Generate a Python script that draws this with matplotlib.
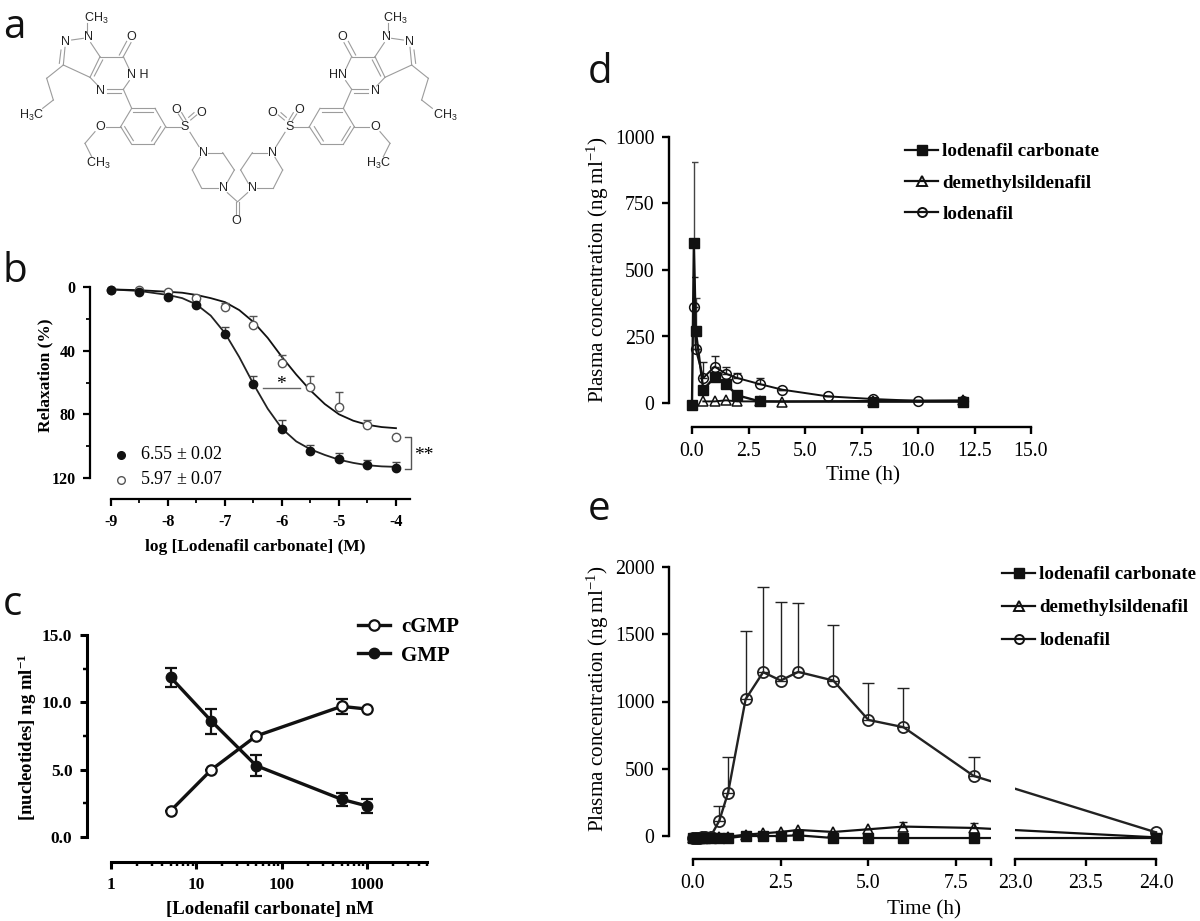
import numpy as np
import matplotlib
matplotlib.use("Agg")
import matplotlib.pyplot as plt
from matplotlib.lines import Line2D
from matplotlib.ticker import FixedLocator, NullFormatter

plt.rcParams['font.family'] = ['Liberation Serif', 'DejaVu Sans']
plt.rcParams['mathtext.default'] = 'regular'
plt.rcParams['axes.unicode_minus'] = False

W, H = 1200, 921

# panel b
b_logc = [-9, -8.5, -8, -7.5, -7, -6.5, -6, -5.5, -5, -4.5, -4]
b_filled = [1.7, 3, 6.5, 11, 29.6, 61, 89, 103, 108, 112, 113.5]
b_filled_top = [1.7, 3, 6.5, 9, 25, 56, 83.5, 99, 104, 108.5, 110]
b_open = [1.7, 2, 3, 6.7, 12.5, 24, 47.6, 63, 75.6, 87, 94]
b_open_top = [1.7, 2, 3, 5, 10, 18, 43, 56, 66, 83.5, 94]
b_curve_x = [-9, -8.5, -8, -7.75, -7.5, -7.25, -7, -6.75, -6.5, -6.25, -6, -5.75, -5.5, -5.25, -5, -4.75, -4.5, -4.25, -4]
b_curve_filled = [1.5, 2.5, 5, 7, 11, 18, 29, 44, 61, 76.5, 89, 97, 102, 105.5, 108.5, 110.5, 112, 112.7, 113]
b_curve_open = [1.5, 2, 3, 3.6, 5, 7, 9.5, 14.5, 22, 32, 44, 55, 65, 73.5, 80, 84, 86.6, 88, 88.7]

# panel c
c_conc = [5, 15, 50, 500, 1000]
c_cgmp = [1.95, 5.0, 7.5, 9.7, 9.5]
c_cgmp_err = [0, 0, 0, 0.55, 0]
c_gmp = [11.85, 8.6, 5.3, 2.8, 2.3]
c_gmp_err = [0.68, 0.93, 0.8, 0.47, 0.5]

# panel d
d_time_carb = [0, 0.083, 0.167, 0.5, 1, 1.5, 2, 3, 8, 12]
d_carb = [-7, 600, 272, 50, 97, 71, 29, 6, 5, 5]
d_carb_top = [-7, 905, 394, 50, 97, 71, 29, 6, 5, 5]
d_time_dem = [0.5, 1, 1.5, 2, 3, 4, 8, 12]
d_dem = [6, 6, 10, 6, 6, 5, 8, 10]
d_time_lod = [0.083, 0.167, 0.5, 1, 1.5, 2, 3, 4, 6, 8, 10, 12]
d_lod = [362, 202, 94, 137, 110, 94, 71, 50, 25, 15, 8, 8]
d_lod_top = [472, 202, 156, 177, 137, 112, 94, 50, 25, 15, 8, 8]

# panel e
e_time = [0, 0.083, 0.167, 0.25, 0.33, 0.5, 0.75, 1, 1.5, 2, 2.5, 3, 4, 5, 6, 8, 24]
e_carb = [-15, -15, -15, -15, -15, -15, -15, -15, 0, 0, 0, 5, -15, -15, -15, -15, -15]
e_dem = [-15, -15, -15, -10, -10, -10, -5, -5, 10, 20, 30, 45, 30, 50, 70, 60, -10]
e_dem_top = [-15, -15, -15, -10, -10, -10, -5, -5, 10, 20, 30, 45, 30, 50, 107, 94, -10]
e_lod = [-15, -15, -15, -10, -10, -5, 114, 322, 1017, 1218, 1156, 1220, 1156, 863, 809, 447, 27]
e_lod_top = [-15, -15, -15, -10, -10, -5, 223, 590, 1526, 1851, 1739, 1732, 1566, 1141, 1099, 590, 27]

legend_names = ['lodenafil carbonate', 'demethylsildenafil', 'lodenafil']
plasma_label = 'Plasma concentration (ng ml$^{-1}$)'


def panel_axes(left, right, top, bottom, off_left, off_bottom, lw):
    ax = fig.add_axes([left/W, 1-bottom/H, (right-left)/W, (bottom-top)/H])
    ax.patch.set_alpha(0)
    ax.spines['top'].set_visible(False)
    ax.spines['right'].set_visible(False)
    ax.spines['left'].set_position(('outward', off_left*0.72))
    ax.spines['bottom'].set_position(('outward', off_bottom*0.72))
    ax.spines['left'].set_linewidth(lw)
    ax.spines['bottom'].set_linewidth(lw)
    ax.tick_params(which='major', length=5, width=lw, pad=5.5)
    ax.tick_params(which='minor', length=3, width=lw*0.8)
    return ax


def place_labels(ax, xlabel, xpos, ylabel, ypos, size, weight):
    ax.set_xlabel(xlabel, fontsize=size, fontweight=weight, va='center', ha='center')
    ax.set_ylabel(ylabel, fontsize=size, fontweight=weight, va='center', ha='center')
    ax.xaxis.set_label_coords(xpos[0]/W, 1-xpos[1]/H, transform=fig.transFigure)
    ax.yaxis.set_label_coords(ypos[0]/W, 1-ypos[1]/H, transform=fig.transFigure)


def up_err(vals, tops):
    up = np.abs(np.array(tops, dtype=float)-np.array(vals, dtype=float))
    return [np.zeros(len(up)), up]


def pk_legend(ax, x, y, spacing):
    handles = [Line2D([], [], color='#111111', lw=1.6, marker='s', ms=6.5, mfc='#111111', mec='#111111'),
               Line2D([], [], color='#111111', lw=1.6, marker='^', ms=6.5, mfc='none', mec='#111111', mew=1.4),
               Line2D([], [], color='#111111', lw=1.6, marker='o', ms=6.5, mfc='none', mec='#111111', mew=1.4)]
    ax.legend(handles, legend_names, loc='upper left', bbox_to_anchor=(x/W, 1-y/H),
              bbox_transform=fig.transFigure, frameon=False, borderpad=0, borderaxespad=0,
              handlelength=1.75, handletextpad=0.2, labelspacing=spacing,
              prop={'size': 13.7, 'weight': 'bold'})


fig = plt.figure(figsize=(W/100, H/100), dpi=100, facecolor='white')

# panel a, drawn in zoomed pixel units (3 per pixel)
mol = fig.add_axes([0, 0, 1, 1])
mol.set_xlim(0, W*3)
mol.set_ylim(H*3, 0)
mol.axis('off')

half_bonds = [
    (262, 70, 262, 95), (215, 120, 250, 115), (195, 142, 190, 195), (183, 150, 178, 190),
    (190, 195, 270, 232), (270, 232, 300, 170), (283, 228, 308, 180), (300, 170, 272, 128),
    (300, 170, 370, 170), (370, 170, 393, 128), (358, 165, 380, 124), (370, 170, 388, 208),
    (388, 242, 370, 268), (370, 268, 320, 268), (362, 278, 322, 278), (295, 258, 270, 232),
    (370, 268, 395, 325), (395, 325, 465, 325), (465, 325, 497, 380), (497, 380, 462, 433),
    (462, 433, 395, 433), (395, 433, 362, 380), (362, 380, 395, 325), (400, 337, 460, 337),
    (482, 380, 455, 423), (400, 422, 374, 380), (497, 380, 543, 380), (548, 362, 535, 342),
    (558, 360, 545, 338), (572, 360, 590, 345), (566, 352, 582, 338), (570, 397, 597, 440),
    (625, 458, 668, 458), (668, 458, 703, 510), (703, 510, 680, 550), (655, 565, 605, 565),
    (605, 565, 577, 510), (577, 510, 600, 472), (682, 578, 712, 605), (362, 380, 318, 380),
    (285, 395, 255, 430), (255, 430, 275, 470), (190, 195, 140, 235), (140, 235, 160, 300),
    (160, 300, 128, 325),
]
for x1, y1, x2, y2 in half_bonds:
    mol.plot([x1, x2], [y1, y2], color='#9c9c9c', lw=0.8)
    mol.plot([1425-x1, 1425-x2], [y1, y2], color='#9c9c9c', lw=0.8)
mol.plot([708, 708], [605, 645], color='#9c9c9c', lw=0.8)
mol.plot([717, 717], [605, 645], color='#9c9c9c', lw=0.8)

atom_labels = [
    (290, 55, 'CH$_3$'), (265, 112, 'N'), (195, 125, 'N'), (395, 110, 'O'), (413, 226, 'N H'),
    (302, 273, 'N'), (93, 347, 'H$_3$C'), (300, 380, 'O'), (295, 490, 'CH$_3$'), (528, 330, 'O'),
    (603, 338, 'O'), (555, 380, 'S'), (610, 458, 'N'), (670, 565, 'N'), (710, 662, 'O'),
    (1185, 55, 'CH$_3$'), (1160, 112, 'N'), (1230, 125, 'N'), (1027, 110, 'O'), (1013, 226, 'HN'),
    (1127, 273, 'N'), (1337, 347, 'CH$_3$'), (1127, 380, 'O'), (1135, 490, 'H$_3$C'), (818, 338, 'O'),
    (898, 330, 'O'), (868, 380, 'S'), (818, 458, 'N'), (757, 565, 'N'),
]
for x, y, s in atom_labels:
    mol.text(x, y, s, fontsize=9, family='Liberation Sans', color='#222222', ha='center', va='center')

for x, y, s in [(3, 38, 'a'), (3, 282, 'b'), (3, 615, 'c'), (588, 83, 'd'), (588, 520, 'e')]:
    fig.text(x/W, 1-y/H, s, fontsize=29, family='Open Sans', color='#111111', ha='left', va='baseline')

# panel b
ax = panel_axes(111, 410, 287, 478, 21, 21, 1.6)
ax.set_xlim(-9, -3.754)
ax.set_ylim(120, 0)
ax.plot(b_curve_x, b_curve_filled, color='#222222', lw=1.3, clip_on=False)
ax.plot(b_curve_x, b_curve_open, color='#111111', lw=1.3, clip_on=False)
lo = np.array(b_filled)-np.array(b_filled_top)
ax.errorbar(b_logc, b_filled, yerr=[lo, np.zeros(len(lo))], fmt='none', ecolor='#444444', elinewidth=1, capsize=3, clip_on=False)
lo = np.array(b_open)-np.array(b_open_top)
ax.errorbar(b_logc, b_open, yerr=[lo, np.zeros(len(lo))], fmt='none', ecolor='#555555', elinewidth=1, capsize=3, clip_on=False)
ax.plot(b_logc, b_open, ls='none', marker='o', ms=6, mfc='white', mec='#555555', mew=1, clip_on=False)
ax.plot(b_logc, b_filled, ls='none', marker='o', ms=6, color='#111111', clip_on=False)
ax.set_xticks([-9, -8, -7, -6, -5, -4])
ax.xaxis.set_minor_locator(FixedLocator([-8.5, -7.5, -6.5, -5.5, -4.5]))
ax.set_yticks([0, 40, 80, 120])
ax.yaxis.set_minor_locator(FixedLocator([20, 60, 100]))
ax.tick_params(labelsize=11.5)
for t in ax.get_xticklabels()+ax.get_yticklabels():
    t.set_fontweight('bold')
place_labels(ax, 'log [Lodenafil carbonate] (M)', (255, 547), 'Relaxation (%)', (45, 375), 12.5, 'bold')
ax.plot([-8.82], [105.5], marker='o', ms=5.5, color='#111111', clip_on=False)
ax.plot([-8.82], [121], marker='o', ms=5.5, mfc='white', mec='#555555', clip_on=False)
ax.text(-8.49, 105.5, '6.55 $\\pm$ 0.02', fontsize=13, va='center')
ax.text(-8.49, 121, '5.97 $\\pm$ 0.07', fontsize=13, va='center')
ax.plot([-6.33, -5.68], [63.4, 63.4], color='#666666', lw=1)
ax.text(-6.01, 61, '*', fontsize=14, ha='center', va='center')
ax.plot([-3.84, -3.74, -3.74, -3.84], [94.2, 94.2, 114.3, 114.3], color='#555555', lw=1, clip_on=False)
ax.text(-3.52, 106, '**', fontsize=14, ha='center', va='center')

# panel c
ax = panel_axes(111, 427, 635, 837, 24, 25, 2.2)
ax.set_xscale('log')
ax.set_xlim(1, 5000)
ax.set_ylim(0, 15)
ax.plot(c_conc, c_cgmp, color='#111111', lw=2.4, label='cGMP', marker='o', ms=7.5, mfc='white', mec='#111111', mew=1.6, zorder=3, clip_on=False)
ax.plot(c_conc, c_gmp, color='#111111', lw=2.4, label='GMP', marker='o', ms=7.5, mfc='#111111', mec='#111111', zorder=4, clip_on=False)
ax.errorbar(c_conc, c_cgmp, yerr=c_cgmp_err, fmt='none', ecolor='#111111', elinewidth=1.6, capsize=4, capthick=1.6, zorder=2)
ax.errorbar(c_conc, c_gmp, yerr=c_gmp_err, fmt='none', ecolor='#111111', elinewidth=1.6, capsize=4, capthick=1.6, zorder=2)
ax.set_xticks([1, 10, 100, 1000])
ax.set_xticklabels(['1', '10', '100', '1000'])
ax.xaxis.set_minor_formatter(NullFormatter())
ax.set_yticks([0, 5, 10, 15])
ax.set_yticklabels(['0.0', '5.0', '10.0', '15.0'])
ax.yaxis.set_minor_locator(FixedLocator([2.5, 7.5, 12.5]))
ax.tick_params(labelsize=12.5)
for t in ax.get_xticklabels()+ax.get_yticklabels():
    t.set_fontweight('bold')
place_labels(ax, '[Lodenafil carbonate] nM', (270, 909), '[nucleotides] ng ml$^{-1}$', (27, 737), 13.5, 'bold')
ax.legend(loc='upper left', bbox_to_anchor=(358/W, 1-617/H), bbox_transform=fig.transFigure,
          frameon=False, borderpad=0, borderaxespad=0, handlelength=1.54, handletextpad=0.53,
          labelspacing=0.42, prop={'size': 15, 'weight': 'bold'})

# panel d
ax = panel_axes(692, 1031, 137, 403, 23, 24, 1.7)
ax.set_xlim(0, 15)
ax.set_ylim(0, 1000)
ax.errorbar(d_time_carb, d_carb, yerr=up_err(d_carb, d_carb_top), fmt='none', ecolor='#444444', elinewidth=1, capsize=3)
ax.errorbar(d_time_lod, d_lod, yerr=up_err(d_lod, d_lod_top), fmt='none', ecolor='#222222', elinewidth=1, capsize=3)
ax.plot(d_time_carb, d_carb, color='#111111', lw=1.7, marker='s', ms=7, clip_on=False)
ax.plot(d_time_dem, d_dem, color='#111111', lw=1.4, marker='^', ms=6.5, mfc='none', mew=1.1, clip_on=False)
ax.plot(d_time_lod, d_lod, color='#111111', lw=1.4, marker='o', ms=7, mfc='none', mew=1.1, clip_on=False)
ax.set_xticks([0, 2.5, 5, 7.5, 10, 12.5, 15])
ax.set_xticklabels(['0.0', '2.5', '5.0', '7.5', '10.0', '12.5', '15.0'])
ax.set_yticks([0, 250, 500, 750, 1000])
ax.tick_params(labelsize=14.3)
place_labels(ax, 'Time (h)', (863, 476), plasma_label, (598, 270), 15.2, 'normal')
pk_legend(ax, 905, 143, 0.74)

# panel e, broken time axis through a piecewise scale
ax = panel_axes(693, 1156, 567, 836, 24, 23, 1.7)
hours = [0, 8.5, 23, 24]
drawn = [0, 8.5, 9.19, 13.2]
ax.set_xscale('function', functions=(lambda v: np.interp(v, hours, drawn), lambda v: np.interp(v, drawn, hours)))
ax.set_xlim(0, 24)
ax.set_ylim(0, 2000)
ax.errorbar(e_time, e_dem, yerr=up_err(e_dem, e_dem_top), fmt='none', ecolor='#222222', elinewidth=1, capsize=3)
ax.errorbar(e_time, e_lod, yerr=up_err(e_lod, e_lod_top), fmt='none', ecolor='#222222', elinewidth=1, capsize=4)
ax.plot(e_time, e_dem, color='#111111', lw=1.6, marker='^', ms=6.5, mfc='none', mew=1.2, clip_on=False)
ax.plot(e_time, e_lod, color='#222222', lw=1.7, marker='o', ms=8, mfc='none', mew=1.3, clip_on=False)
ax.plot(e_time, e_carb, color='#111111', lw=1.6, marker='s', ms=7, clip_on=False, zorder=4)
ax.add_patch(plt.Rectangle((8.5, -0.06), 14.5, 0.36, transform=ax.get_xaxis_transform(), fc='white', ec='none', zorder=4.5, clip_on=False))
ax.set_xticks([0, 2.5, 5, 7.5, 8.5, 23, 23.5, 24])
ax.set_xticklabels(['0.0', '2.5', '5.0', '7.5', '', '23.0', '23.5', '24.0'])
ax.spines['bottom'].set_bounds(0, 8.5)
ax.plot([23, 24], [-23/269, -23/269], transform=ax.get_xaxis_transform(), color='black', lw=1.7, clip_on=False, zorder=7, solid_capstyle='projecting')
ax.set_yticks([0, 500, 1000, 1500, 2000])
ax.tick_params(labelsize=14.3)
place_labels(ax, 'Time (h)', (924, 910), plasma_label, (598, 699), 15.2, 'normal')
pk_legend(ax, 1002, 566, 0.82)

fig.savefig('out.png', dpi=100)
